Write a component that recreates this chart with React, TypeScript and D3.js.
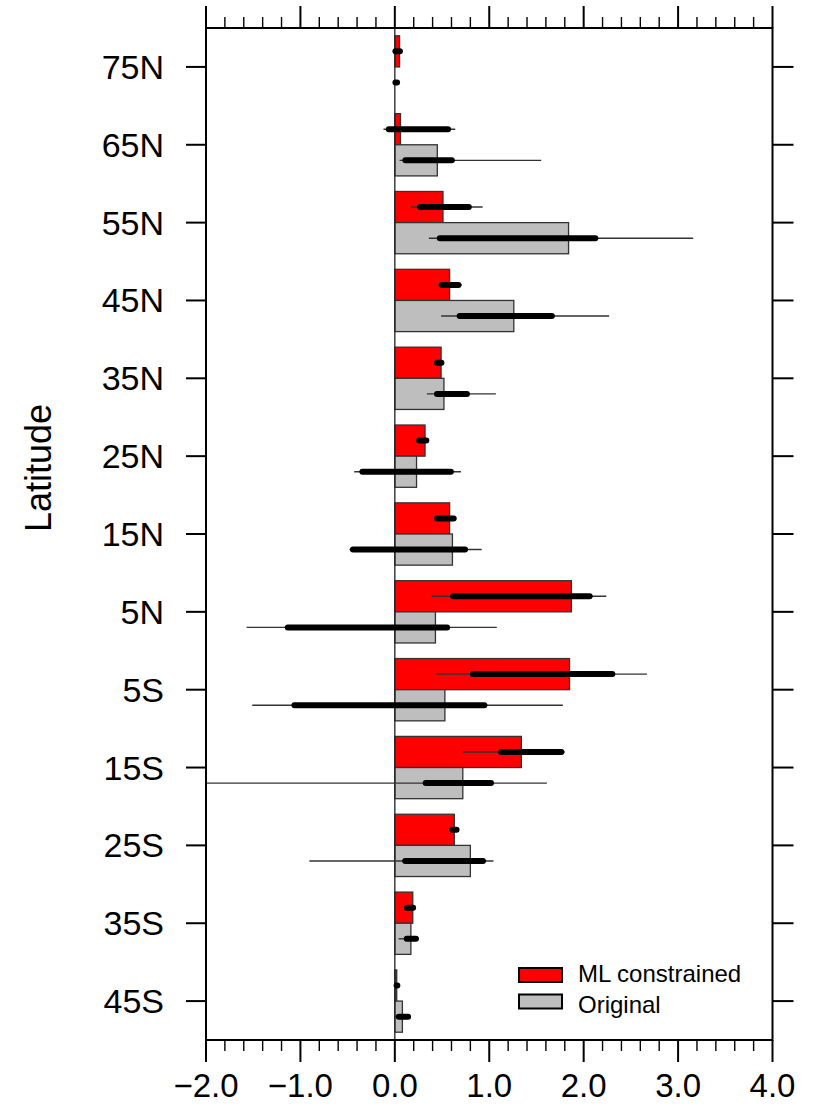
import React from "react";
import * as d3 from "d3";

// Latitude bands, top to bottom
const latitudes = ["75N", "65N", "55N", "45N", "35N", "25N", "15N", "5N", "5S", "15S", "25S", "35S", "45S"];

// ML constrained estimates
const mlValue = [0.05, 0.06, 0.51, 0.58, 0.49, 0.32, 0.58, 1.87, 1.85, 1.34, 0.63, 0.19, 0.02];
const mlInnerLo = [-0.02, -0.09, 0.24, 0.47, 0.42, 0.23, 0.42, 0.59, 0.8, 1.1, 0.58, 0.1, 0.0];
const mlInnerHi = [0.08, 0.59, 0.81, 0.7, 0.52, 0.36, 0.65, 2.09, 2.33, 1.79, 0.68, 0.22, 0.045];
const mlOuterLo = [-0.02, -0.12, 0.17, 0.46, 0.42, 0.23, 0.42, 0.39, 0.44, 0.72, 0.58, 0.1, 0.0];
const mlOuterHi = [0.08, 0.64, 0.93, 0.71, 0.52, 0.36, 0.65, 2.24, 2.67, 1.8, 0.68, 0.22, 0.045];

// Original estimates
const origValue = [0.0, 0.45, 1.84, 1.26, 0.52, 0.23, 0.61, 0.43, 0.53, 0.72, 0.8, 0.17, 0.08];
const origInnerLo = [-0.02, 0.085, 0.45, 0.66, 0.42, -0.37, -0.47, -1.16, -1.09, 0.3, 0.083, 0.1, 0.015];
const origInnerHi = [0.05, 0.63, 2.15, 1.69, 0.79, 0.62, 0.77, 0.58, 0.975, 1.045, 0.96, 0.25, 0.167];
const origOuterLo = [-0.02, 0.05, 0.36, 0.49, 0.34, -0.43, -0.48, -1.57, -1.51, -2.4, -0.905, 0.04, 0.0];
const origOuterHi = [0.05, 1.55, 3.16, 2.27, 1.07, 0.7, 0.92, 1.08, 1.78, 1.61, 1.045, 0.25, 0.167];

const xMajor = [-2, -1, 0, 1, 2, 3, 4];
const xMinor = d3.range(-2, 4.0001, 0.2).filter((v) => Math.abs(v - Math.round(v)) > 1e-6);

const seriesNames = ["ML constrained", "Original"];
const seriesFill = ["#ff0000", "#bebebe"];

const W = 815;
const H = 1117;
const left = 206;
const right = 772.5;
const top = 28;
const bottom = 1040;
const FONT = "'Liberation Sans', Arial, Helvetica, sans-serif";

export default function App() {
  const x = d3.scaleLinear().domain([-2, 4]).range([left, right]);
  const y = d3.scaleBand<string>().domain(latitudes).range([top, bottom]);
  const band = y.bandwidth();
  const barH = band * 0.4;
  const center = (lat: string) => (y(lat) as number) + band / 2;

  const series = [
    { value: mlValue, iLo: mlInnerLo, iHi: mlInnerHi, oLo: mlOuterLo, oHi: mlOuterHi, off: -1 },
    { value: origValue, iLo: origInnerLo, iHi: origInnerHi, oLo: origOuterLo, oHi: origOuterHi, off: 0 },
  ];

  return (
    <svg width={W} height={H} style={{ display: "block", position: "absolute", left: 0, top: 0 }} fontFamily={FONT}>
      <defs>
        <clipPath id="plot-area">
          <rect x={left} y={top} width={right - left} height={bottom - top} />
        </clipPath>
      </defs>
      <rect x={0} y={0} width={W} height={H} fill="#fff" />

      {/* bars */}
      {series.map((s, si) =>
        latitudes.map((lat, i) => {
          const y0 = center(lat) + s.off * barH;
          const x0 = x(Math.min(0, s.value[i]));
          const x1 = x(Math.max(0, s.value[i]));
          return (
            <rect
              key={`b${si}-${i}`}
              x={x0}
              y={y0}
              width={Math.max(0, x1 - x0)}
              height={barH}
              fill={seriesFill[si]}
              stroke="#333"
              strokeWidth={1.3}
            />
          );
        })
      )}

      {/* zero line */}
      <line x1={x(0)} x2={x(0)} y1={top} y2={bottom} stroke="#222" strokeWidth={1.3} />

      {/* uncertainty ranges */}
      <g clipPath="url(#plot-area)">
        {series.map((s, si) =>
          latitudes.map((lat, i) => {
            const yc = center(lat) + s.off * barH + barH / 2;
            return (
              <g key={`e${si}-${i}`}>
                <line x1={x(s.oLo[i])} x2={x(s.oHi[i])} y1={yc} y2={yc} stroke="#333" strokeWidth={1.4} />
                <line
                  x1={x(s.iLo[i]) + 2.5}
                  x2={x(s.iHi[i]) - 2.5}
                  y1={yc}
                  y2={yc}
                  stroke="#000"
                  strokeWidth={6}
                  strokeLinecap="round"
                />
              </g>
            );
          })
        )}
      </g>

      {/* frame */}
      <rect x={left} y={top} width={right - left} height={bottom - top} fill="none" stroke="#000" strokeWidth={2} />

      {/* x ticks top and bottom */}
      {xMajor.map((v) => (
        <g key={`xm${v}`}>
          <line x1={x(v)} x2={x(v)} y1={top} y2={top - 22} stroke="#000" strokeWidth={2} />
          <line x1={x(v)} x2={x(v)} y1={bottom} y2={bottom + 22} stroke="#000" strokeWidth={2} />
          <text x={x(v)} y={1097} fontSize={33} textAnchor="middle" fill="#000">
            {d3.format(".1f")(v)}
          </text>
        </g>
      ))}
      {xMinor.map((v, i) => (
        <g key={`xn${i}`}>
          <line x1={x(v)} x2={x(v)} y1={top} y2={top - 11} stroke="#000" strokeWidth={1.4} />
          <line x1={x(v)} x2={x(v)} y1={bottom} y2={bottom + 11} stroke="#000" strokeWidth={1.4} />
        </g>
      ))}

      {/* y ticks left and right */}
      {latitudes.map((lat) => (
        <g key={`y${lat}`}>
          <line x1={left} x2={left - 20} y1={center(lat)} y2={center(lat)} stroke="#000" strokeWidth={2} />
          <line x1={right} x2={right + 21} y1={center(lat)} y2={center(lat)} stroke="#000" strokeWidth={2} />
          <text x={164} y={center(lat) + 12} fontSize={34} textAnchor="end" fill="#000">
            {lat}
          </text>
        </g>
      ))}

      {/* axis title */}
      <text transform="translate(51,468) rotate(-90)" fontSize={36} textAnchor="middle" fill="#000">
        Latitude
      </text>

      {/* legend */}
      {seriesNames.map((name, i) => (
        <g key={`lg${i}`}>
          <rect x={519} y={968 + i * 26.5} width={43} height={14} fill={seriesFill[i]} stroke="#000" strokeWidth={2} />
          <text x={578} y={982 + i * 31} fontSize={24} fill="#000">
            {name}
          </text>
        </g>
      ))}
    </svg>
  );
}
